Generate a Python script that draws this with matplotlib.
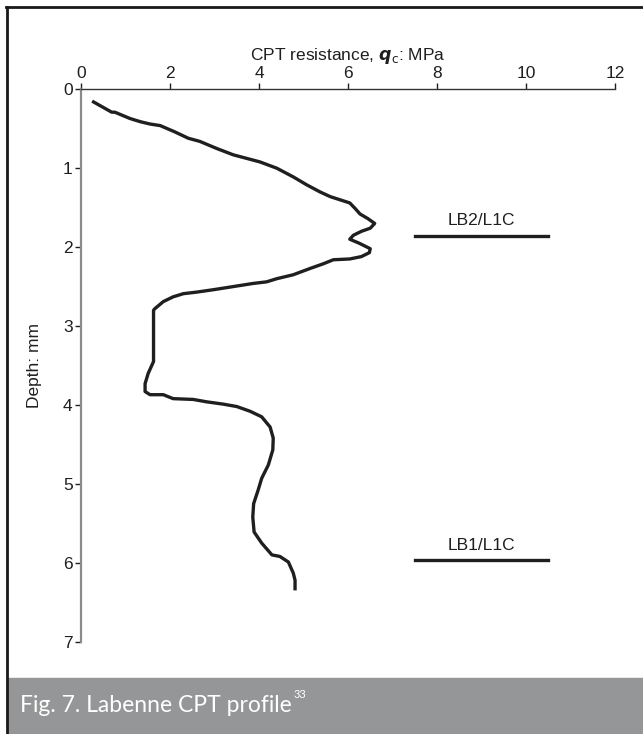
import matplotlib
matplotlib.use('Agg')
import matplotlib.pyplot as plt
from matplotlib.lines import Line2D
from matplotlib.patches import Rectangle

# CPT profile, Labenne: cone resistance (MPa) against depth (m)
qc = [0.25, 0.69, 0.76, 1.10, 1.33, 1.55, 1.78, 2.11, 2.41, 2.67, 3.05, 3.42,
      3.72, 4.02, 4.40, 4.77, 5.07, 5.37, 5.60, 5.82, 6.04, 6.16, 6.27, 6.45,
      6.60, 6.50, 6.30, 6.12, 6.04, 6.25, 6.50, 6.48, 6.30, 6.04, 5.67, 5.45,
      5.15, 4.77, 4.40, 4.17, 3.87, 3.42, 2.97, 2.60, 2.30, 2.07, 1.85, 1.66,
      1.63, 1.63, 1.51, 1.44, 1.44, 1.55, 1.85, 2.07, 2.52, 2.82, 3.20, 3.50,
      3.80, 4.06, 4.25, 4.32, 4.31, 4.21, 4.06, 3.98, 3.88, 3.86, 3.89, 4.06,
      4.29, 4.47, 4.66, 4.77, 4.81, 4.81]
depth = [0.15, 0.29, 0.29, 0.37, 0.41, 0.44, 0.46, 0.54, 0.62, 0.66, 0.75, 0.83,
         0.875, 0.92, 1.00, 1.11, 1.21, 1.30, 1.36, 1.40, 1.44, 1.51, 1.58, 1.64,
         1.70, 1.76, 1.80, 1.85, 1.90, 1.95, 2.02, 2.07, 2.12, 2.15, 2.16, 2.21,
         2.27, 2.35, 2.40, 2.44, 2.46, 2.50, 2.54, 2.57, 2.59, 2.63, 2.69, 2.78,
         2.80, 3.45, 3.60, 3.73, 3.83, 3.87, 3.87, 3.92, 3.93, 3.96, 3.99, 4.02,
         4.08, 4.15, 4.28, 4.42, 4.57, 4.76, 4.93, 5.08, 5.25, 5.42, 5.61, 5.75,
         5.90, 5.92, 5.99, 6.13, 6.22, 6.35]

# sample positions: label, depth and the qc span of the marker
samples = ['LB2/L1C', 'LB1/L1C']
sample_depth = [1.855, 5.97]
sample_qc = (7.5, 10.5)

xticks = [0, 2, 4, 6, 8, 10, 12]
yticks = [0, 1, 2, 3, 4, 5, 6, 7]

FONT = 'Liberation Sans'
INK = '#1f1f1f'

W, H = 643, 734
fig = plt.figure(figsize=(W / 100, H / 100), dpi=100)
fig.patch.set_facecolor('white')

# frame lines and caption band
fig.add_artist(Line2D([6.7 / W, 6.7 / W], [0, 1 - 7.3 / H], color='#1a1a1a', lw=2.0,
                      transform=fig.transFigure))
fig.add_artist(Line2D([6 / W, 1], [1 - 7.3 / H, 1 - 7.3 / H], color='#1a1a1a', lw=2.0,
                      transform=fig.transFigure))
fig.add_artist(Rectangle((8 / W, 0), 1, (H - 678) / H, color='#959697',
                         transform=fig.transFigure, zorder=0))
cap = fig.text(20 / W, 1 - 712 / H, 'Fig. 7. Labenne CPT profile', color='white',
               fontsize=16.5, family='Lato', va='baseline', ha='left')
fig.canvas.draw()
cap_end = cap.get_window_extent().x1
fig.text((cap_end + 2) / W, 1 - 698 / H, '33', color='white', fontsize=8,
         family='Lato', va='baseline', ha='left')

left, right = 81 / W, 615 / W
top, bottom = 1 - 89.3 / H, 1 - 641.7 / H
ax = fig.add_axes([left, bottom, right - left, top - bottom])

ax.plot(qc, depth, color=INK, lw=2.4, solid_joinstyle='round',
        solid_capstyle='butt')
for name, d in zip(samples, sample_depth):
    ax.plot(sample_qc, [d, d], color=INK, lw=2.4)
    ax.text(sum(sample_qc) / 2, d - 0.19, name, ha='center', va='center',
            fontsize=12.5, family=FONT, color=INK)

ax.set_xlim(0, 12)
ax.set_ylim(7, 0)
ax.set_xticks(xticks)
ax.set_yticks(yticks)
ax.xaxis.tick_top()
ax.xaxis.set_label_position('top')
ax.tick_params(axis='both', direction='out', length=4, width=1, colors=INK,
               labelsize=12.5, pad=2)
for lab in ax.get_xticklabels() + ax.get_yticklabels():
    lab.set_family(FONT)

ax.set_xlabel(r'CPT resistance, $\boldsymbol{q}_{\mathrm{c}}$: MPa', fontsize=12.5,
              family=FONT, color=INK)
ax.set_ylabel('Depth: mm', fontsize=12.5, family=FONT, color=INK)
ax.xaxis.set_label_coords(0.5, 1.053)
ax.yaxis.set_label_coords(-0.073, 0.5)

ax.spines['right'].set_visible(False)
ax.spines['bottom'].set_visible(False)
ax.spines['top'].set_color('#333333')
ax.spines['top'].set_linewidth(1.0)
ax.spines['left'].set_color('#8a8a8a')
ax.spines['left'].set_linewidth(1.6)

fig.savefig('out.png', dpi=100)
plt.close()
